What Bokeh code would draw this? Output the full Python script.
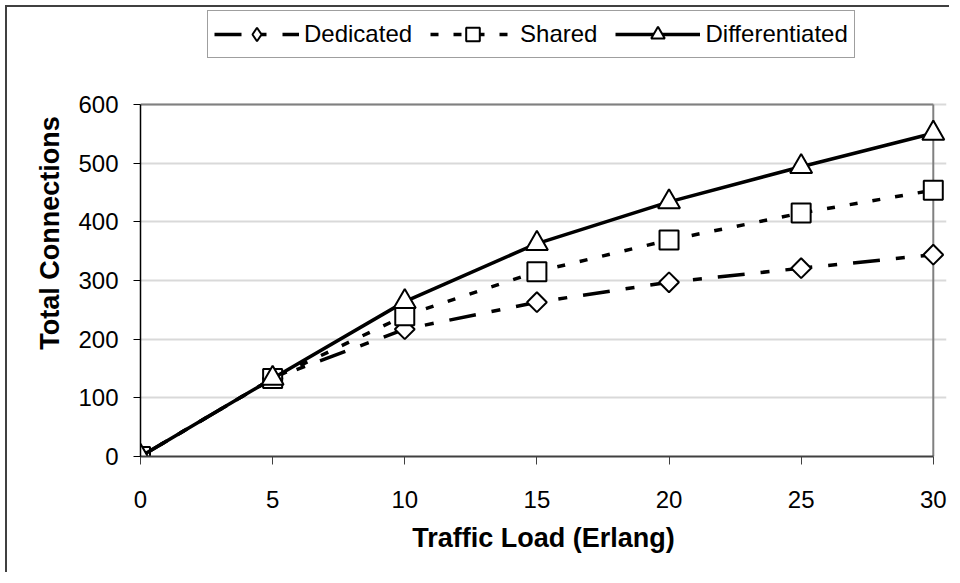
from bokeh.plotting import figure
from bokeh.models import Legend, LegendItem, FixedTicker, Range1d
from bokeh.embed import file_html
from bokeh.resources import INLINE

# ---- data ----
traffic_load = [0, 5, 10, 15, 20, 25, 30]
dedicated = [0, 133, 217, 263, 297, 321, 344]
shared = [0, 133, 240, 315, 369, 415, 454]
differentiated = [0, 133, 264, 363, 434, 494, 551]
x_ticks = [0, 5, 10, 15, 20, 25, 30]
y_ticks = [0, 100, 200, 300, 400, 500, 600]
series_names = ["Dedicated", "Shared", "Differentiated"]

FONT = "Liberation Sans"
X_MAX, Y_MAX = x_ticks[-1], y_ticks[-1]

# frame extended a little right/up so edge markers and the legend are not clipped
p = figure(width=944, height=567, output_backend="svg", toolbar_location=None,
           x_range=Range1d(0, 30.5), y_range=Range1d(0, 762),
           min_border_left=133, min_border_right=5,
           min_border_top=2, min_border_bottom=118)
p.styles = {"border-left": "2px solid #404040", "border-top": "2px solid #404040",
            "margin-left": "5px", "margin-top": "5px"}

p.background_fill_color = "white"
p.border_fill_color = "white"
p.outline_line_color = None

# grid
p.xgrid.grid_line_color = None
p.ygrid.grid_line_color = "#d9d9d9"
p.ygrid.grid_line_width = 2
p.ygrid.bounds = (0, X_MAX)

# plot-area border (top & right)
p.segment(x0=[0, X_MAX], y0=[Y_MAX, 0], x1=[X_MAX, X_MAX], y1=[Y_MAX, Y_MAX],
          line_color="#808080", line_width=2)

# axes
p.xaxis.ticker = FixedTicker(ticks=x_ticks)
p.yaxis.ticker = FixedTicker(ticks=y_ticks)
p.xaxis.bounds = (0, X_MAX)
p.yaxis.bounds = (0, Y_MAX)
p.xaxis.minor_tick_line_color = None
p.yaxis.minor_tick_line_color = None

p.xaxis.axis_label = "Traffic Load (Erlang)"
p.yaxis.axis_label = "Total Connections"
for ax in (p.xaxis, p.yaxis):
    ax.axis_label_text_font = FONT
    ax.axis_label_text_font_style = "bold"
    ax.axis_label_text_font_size = "27px"
    ax.axis_label_text_color = "black"
    ax.major_label_text_font = FONT
    ax.major_label_text_font_size = "24px"
    ax.major_label_text_color = "black"
    ax.major_tick_in = 0
    ax.major_tick_out = 8

p.xaxis.axis_line_color = "#404040"
p.xaxis.axis_line_width = 2
p.xaxis.major_tick_line_color = "#404040"
p.xaxis.major_tick_line_width = 1
p.xaxis.major_label_standoff = 26
p.xaxis.axis_label_standoff = 12

p.yaxis.axis_line_color = "black"
p.yaxis.axis_line_width = 1.5
p.yaxis.major_tick_line_color = "black"
p.yaxis.major_tick_out = 7
p.yaxis.major_label_standoff = 15
p.yaxis.axis_label_standoff = 10

# series
l1 = p.line(traffic_load, dedicated, line_color="black", line_width=3.5,
            line_dash="27 16 9 16")
# diamond key used by the legend (hidden underneath the rotated squares)
k1 = p.scatter(traffic_load, dedicated, marker="diamond", size=16,
               fill_color="white", line_color="black", line_width=2)
m1 = p.scatter(traffic_load, dedicated, marker="square", angle=0.785398,
               size=14, fill_color="white", line_color="black", line_width=2)
l2 = p.line(traffic_load, shared, line_color="black", line_width=3.5,
            line_dash="8 15")
m2 = p.scatter(traffic_load, shared, marker="square", size=19,
               fill_color="white", line_color="black", line_width=2)
l3 = p.line(traffic_load, differentiated, line_color="black", line_width=3.5)
m3 = p.scatter(traffic_load, differentiated, marker="triangle", size=22,
               fill_color="white", line_color="black", line_width=2)

legend = Legend(items=[
    LegendItem(label=series_names[0], renderers=[l1, k1]),
    LegendItem(label=series_names[1], renderers=[l2, m2]),
    LegendItem(label=series_names[2], renderers=[l3, m3]),
], orientation="horizontal", location=(67, 398))
legend.label_text_font = FONT
legend.label_text_font_size = "24px"
legend.label_text_color = "black"
legend.glyph_width = 85
legend.glyph_height = 34
legend.label_standoff = 5
legend.spacing = 18
legend.padding = 6
legend.margin = 0
legend.border_line_color = "#404040"
legend.border_line_width = 1.5
legend.background_fill_color = "white"
legend.background_fill_alpha = 1
p.add_layout(legend, "center")

open("out.html", "w").write(file_html(p, INLINE))
